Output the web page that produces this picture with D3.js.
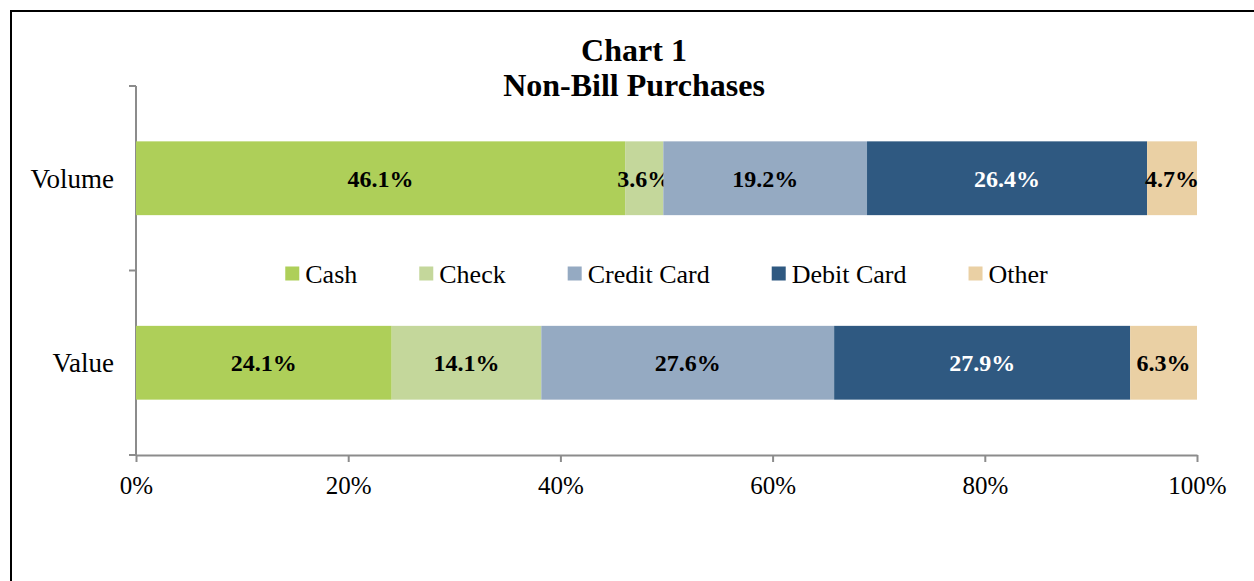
<!DOCTYPE html>
<html>
<head>
<meta charset="utf-8">
<script src="https://cdn.jsdelivr.net/npm/d3@7"></script>
<style>
  body { margin: 0; background: #fff; }
  svg { display: block; font-family: "Liberation Serif", "Times New Roman", serif; }
</style>
</head>
<body>
<div id="chart"></div>
<script>
const categories = ['Volume', 'Value'];
const seriesNames = ['Cash', 'Check', 'Credit Card', 'Debit Card', 'Other'];
const volumeShares = [46.1, 3.6, 19.2, 26.4, 4.7];
const valueShares = [24.1, 14.1, 27.6, 27.9, 6.3];
const xTicks = [0, 20, 40, 60, 80, 100];
const seriesColors = ['#aecf59', '#c4d79b', '#95aac2', '#2f5981', '#ead0a4'];
const labelColors = ['#000', '#000', '#000', '#fff', '#000'];

const width = 1254;
const height = 581;
const margin = { top: 86, right: 57, bottom: 126, left: 136 };
const innerW = width - margin.left - margin.right;
const innerH = height - margin.top - margin.bottom;

const svg = d3.select('#chart').append('svg')
  .attr('width', width)
  .attr('height', height);

// outer frame (runs off the right/bottom edge like the source)
svg.append('rect')
  .attr('x', 11).attr('y', 11)
  .attr('width', width + 20).attr('height', height + 20)
  .attr('fill', 'none')
  .attr('stroke', '#000')
  .attr('stroke-width', 2);

svg.append('text')
  .attr('x', 634).attr('y', 61)
  .attr('text-anchor', 'middle')
  .attr('font-size', '32px')
  .attr('font-weight', 'bold')
  .text('Chart 1');
svg.append('text')
  .attr('x', 634).attr('y', 96)
  .attr('text-anchor', 'middle')
  .attr('font-size', '32px')
  .attr('font-weight', 'bold')
  .text('Non-Bill Purchases');

const g = svg.append('g')
  .attr('transform', `translate(${margin.left},${margin.top})`);

const rows = categories.map((c, i) => {
  const vals = i === 0 ? volumeShares : valueShares;
  const row = { category: c };
  seriesNames.forEach((s, j) => row[s] = vals[j]);
  return row;
});

const stack = d3.stack().keys(seriesNames)(rows);

const x = d3.scaleLinear().domain([0, 100]).range([0, innerW]);
const y = d3.scaleBand().domain(categories).range([0, innerH]).paddingInner(0.6).paddingOuter(0.3);
const band = d3.scaleBand().domain(categories).range([0, innerH]);

// y axis with ticks on category boundaries
const axisColor = '#8c8c8c';
g.append('line')
  .attr('x1', 0).attr('x2', 0)
  .attr('y1', 0).attr('y2', innerH)
  .attr('stroke', axisColor).attr('stroke-width', 2);
g.append('g')
  .selectAll('line')
  .data([0, ...categories.map(c => band(c) + band.bandwidth())])
  .join('line')
  .attr('x1', -7).attr('x2', 0)
  .attr('y1', d => d).attr('y2', d => d)
  .attr('stroke', axisColor).attr('stroke-width', 2);
g.append('g')
  .selectAll('text')
  .data(categories)
  .join('text')
  .attr('x', -22)
  .attr('y', d => band(d) + band.bandwidth() / 2)
  .attr('dy', '0.35em')
  .attr('text-anchor', 'end')
  .attr('font-size', '27px')
  .text(d => d);

// x axis
const xAxis = d3.axisBottom(x)
  .tickValues(xTicks)
  .tickFormat(d => d + '%')
  .tickSize(7)
  .tickPadding(14)
  .tickSizeOuter(0);
g.append('g')
  .attr('transform', `translate(0,${innerH})`)
  .call(xAxis)
  .call(a => a.select('.domain').attr('stroke', axisColor).attr('stroke-width', 2))
  .call(a => a.selectAll('.tick line').attr('stroke', axisColor).attr('stroke-width', 2))
  .call(a => a.selectAll('.tick text')
    .attr('font-family', '"Liberation Serif", "Times New Roman", serif')
    .attr('font-size', '25px')
    .attr('fill', '#000'));

// bars
const layers = g.append('g')
  .selectAll('g')
  .data(stack)
  .join('g')
  .attr('fill', (d, i) => seriesColors[i]);

layers.selectAll('rect')
  .data(d => d)
  .join('rect')
  .attr('x', d => x(d[0]))
  .attr('y', d => y(d.data.category))
  .attr('width', d => x(d[1]) - x(d[0]))
  .attr('height', y.bandwidth());

layers.selectAll('text')
  .data(d => d)
  .join('text')
  .attr('x', d => (x(d[0]) + x(d[1])) / 2)
  .attr('y', d => y(d.data.category) + y.bandwidth() / 2)
  .attr('dy', '0.35em')
  .attr('text-anchor', 'middle')
  .attr('font-size', '24px')
  .attr('font-weight', 'bold')
  .attr('fill', function () {
    const i = stack.indexOf(d3.select(this.parentNode).datum());
    return labelColors[i];
  })
  .text(d => (d[1] - d[0]).toFixed(1) + '%');

// legend, centred between the two bars
const legend = g.append('g');
const items = legend.selectAll('g')
  .data(seriesNames)
  .join('g');
items.append('rect')
  .attr('y', -7)
  .attr('width', 14).attr('height', 14)
  .attr('fill', (d, i) => seriesColors[i]);
items.append('text')
  .attr('x', 20)
  .attr('dy', '0.35em')
  .attr('font-size', '26px')
  .text(d => d);

let offset = 0;
items.each(function () {
  const w = 20 + d3.select(this).select('text').node().getComputedTextLength();
  d3.select(this).attr('transform', `translate(${offset},0)`);
  offset += w + 62;
});
const legendW = offset - 62;
legend.attr('transform', `translate(${(innerW - legendW) / 2},${band('Value') + 3})`);
</script>
</body>
</html>
